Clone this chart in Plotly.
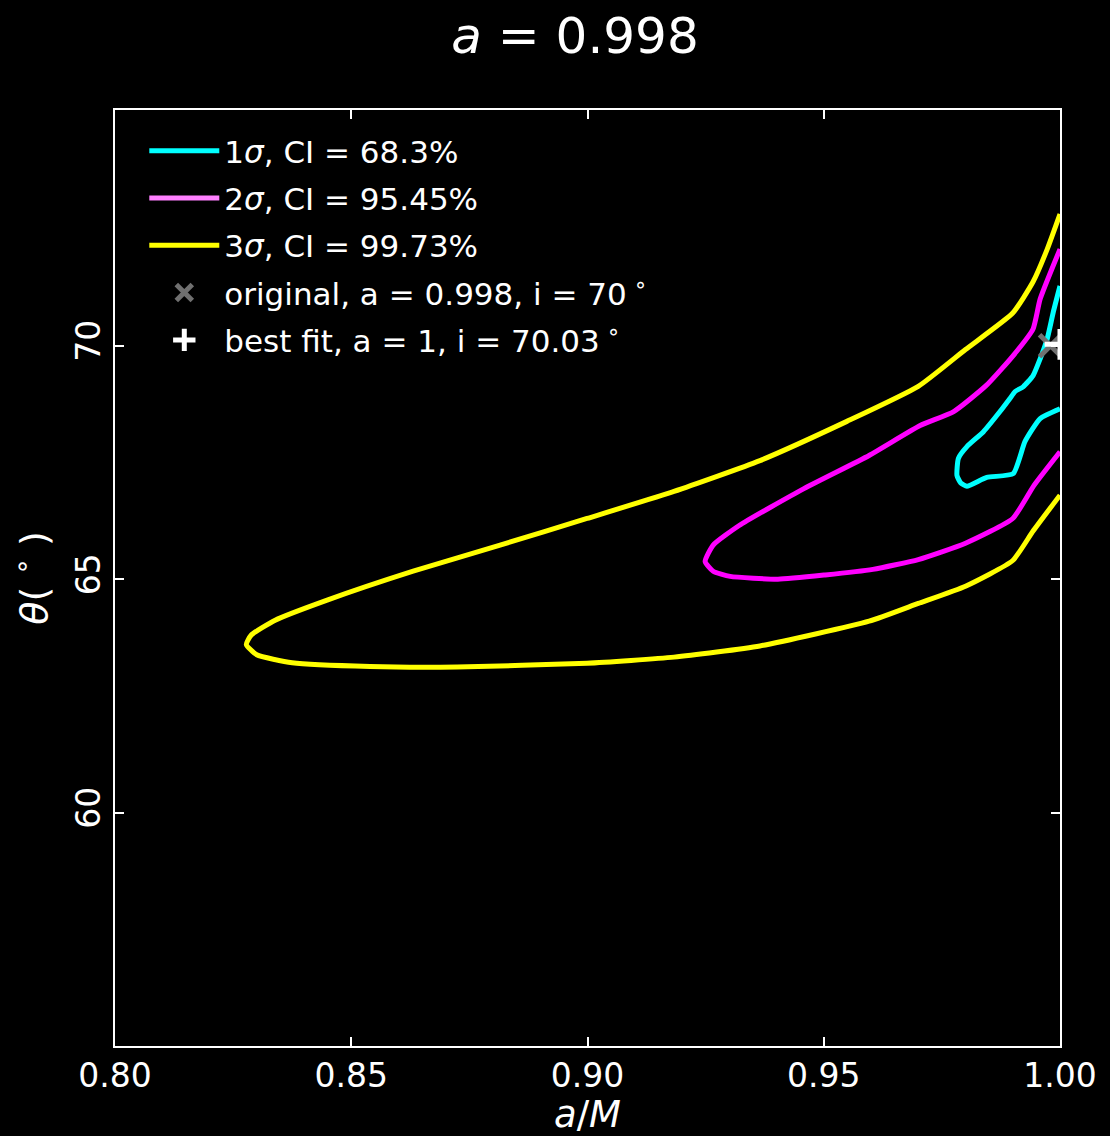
import plotly.graph_objects as go

# 1-sigma contour (a/M, theta)
s1_a = [1.0, 0.9986, 0.9973, 0.9958, 0.9943, 0.9922, 0.9905, 0.9894, 0.9873, 0.9838,
        0.9803, 0.9785, 0.9782, 0.9790, 0.9803, 0.9845, 0.9901, 0.9926, 0.9958, 1.0]
s1_t = [71.28, 70.73, 70.15, 69.72, 69.36, 69.12, 69.02, 68.87, 68.59, 68.16,
        67.84, 67.59, 67.22, 67.06, 66.99, 67.18, 67.26, 67.95, 68.44, 68.65]

# 2-sigma contour
s2_a = [1.0, 0.9958, 0.9943, 0.9901, 0.9844, 0.9775, 0.9704, 0.9596, 0.9458, 0.9321,
        0.9266, 0.9249, 0.9266, 0.9302, 0.9403, 0.9503, 0.9604, 0.9700, 0.9800, 0.9900,
        0.9945, 1.0]
s2_t = [72.07, 71.00, 70.36, 69.79, 69.15, 68.59, 68.29, 67.65, 66.94, 66.15,
        65.73, 65.38, 65.17, 65.06, 65.00, 65.09, 65.21, 65.42, 65.77, 66.30,
        67.01, 67.73]

# 3-sigma contour
s3_a = [1.0, 0.9973, 0.9943, 0.9900, 0.9800, 0.9700, 0.9549, 0.9365, 0.9183, 0.8999,
        0.8815, 0.8631, 0.8449, 0.8339, 0.8288, 0.8278, 0.8300, 0.8375, 0.8540, 0.8724,
        0.8999, 0.9183, 0.9365, 0.9596, 0.9700, 0.9800, 0.9900, 0.9943, 1.0]
s3_t = [72.82, 72.07, 71.37, 70.70, 69.92, 69.13, 68.38, 67.54, 66.88, 66.30,
        65.73, 65.17, 64.55, 64.12, 63.80, 63.60, 63.38, 63.21, 63.13, 63.12,
        63.20, 63.33, 63.57, 64.10, 64.48, 64.85, 65.40, 66.03, 66.80]

orig_a, orig_i = [0.998], [70.0]
best_a, best_i = [1.0], [70.03]

labels = ["1<i>σ</i>, CI = 68.3%", "2<i>σ</i>, CI = 95.45%", "3<i>σ</i>, CI = 99.73%",
          "original, a = 0.998, i = 70<sup> ∘</sup>", "best fit, a = 1, i = 70.03<sup> ∘</sup>"]
line_colors = ["#00ffff", "#ff00ff", "#ffff00"]
legend_colors = ["#00ffff", "#ff80ff", "#ffff00"]

xticks = [0.80, 0.85, 0.90, 0.95, 1.00]
yticks = [60, 65, 70]

FONT = "DejaVu Sans"
fig = go.Figure()

for xs, ys, c in zip([s1_a, s2_a, s3_a], [s1_t, s2_t, s3_t], line_colors):
    fig.add_trace(go.Scatter(x=xs, y=ys, mode="lines",
                             line=dict(color=c, width=5, shape="spline", smoothing=0.5),
                             showlegend=False, hoverinfo="skip"))

for k in range(3):
    fig.add_trace(go.Scatter(x=[None], y=[None], mode="lines",
                             line=dict(color=legend_colors[k], width=5),
                             name=labels[k], legendgroup=f"g{k}"))

fig.add_trace(go.Scatter(x=orig_a, y=orig_i, mode="markers", name=labels[3], legendgroup="g3",
                         marker=dict(symbol="x-thin", size=22, color="#707070",
                                     line=dict(color="#707070", width=5))))
fig.add_trace(go.Scatter(x=best_a, y=best_i, mode="markers", name=labels[4], legendgroup="g4",
                         marker=dict(symbol="cross-thin", size=22, color="white",
                                     line=dict(color="white", width=5))))

axis_common = dict(showline=True, linecolor="white", linewidth=1.5, mirror="ticks",
                   ticks="inside", ticklen=9, tickwidth=1.5, tickcolor="white",
                   showgrid=False, zeroline=False,
                   tickfont=dict(family=FONT, size=33, color="white"))

fig.update_layout(
    width=1110, height=1136,
    paper_bgcolor="black", plot_bgcolor="black",
    margin=dict(l=115, r=50, t=110, b=86),
    title=dict(text="<i>a</i> = 0.998", x=575 / 1110, xanchor="center", y=1 - 35 / 1136,
               yanchor="middle", font=dict(family=FONT, size=50, color="white")),
    xaxis=dict(range=[0.8, 1.0], tickvals=xticks, ticktext=[f"{v:.2f}" for v in xticks],
               title=dict(text="<i>a</i>/<i>M</i>", font=dict(family=FONT, size=37, color="white"),
                          standoff=3),
               **axis_common),
    yaxis=dict(range=[55, 75.05], tickvals=yticks, ticktext=[str(v) for v in yticks],
               tickangle=-90,
               title=dict(text="<i>θ</i>( <sup>∘</sup> )", font=dict(family=FONT, size=38, color="white"),
                          standoff=10),
               **axis_common),
    legend=dict(x=0.031, y=0.985, xanchor="left", yanchor="top", bgcolor="rgba(0,0,0,0)",
                font=dict(family=FONT, size=31, color="white"), tracegroupgap=4,
                traceorder="grouped", itemwidth=70),
)

fig.write_html("out.html", config={"displayModeBar": False},
               post_script="document.body.style.margin='0';document.body.style.background='black';"
                           "document.documentElement.style.background='black';")
